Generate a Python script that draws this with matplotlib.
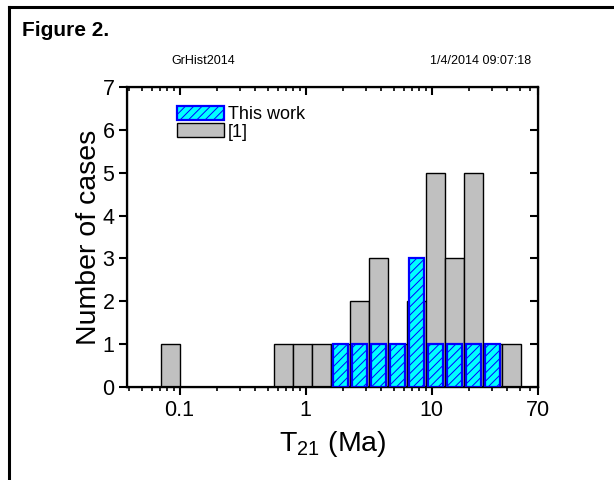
import matplotlib
matplotlib.use('Agg')
import matplotlib.pyplot as plt
import numpy as np
from matplotlib.lines import Line2D

plt.rcParams['font.family'] = 'Liberation Sans'
plt.rcParams['mathtext.fontset'] = 'custom'
plt.rcParams['mathtext.rm'] = 'Liberation Sans'
plt.rcParams['mathtext.it'] = 'Liberation Sans'
plt.rcParams['hatch.linewidth'] = 0.7

# log bins (factor sqrt(2)), edges in Ma
ref_lo = [0.0707, 0.566, 0.8, 1.131, 1.6, 2.263, 3.2, 4.525, 6.4, 9.05, 12.8, 18.1, 25.6, 36.2]
ref_hi = [0.1, 0.8, 1.131, 1.6, 2.263, 3.2, 4.525, 6.4, 9.05, 12.8, 18.1, 25.6, 36.2, 51.2]
ref_counts = [1, 1, 1, 1, 1, 2, 3, 1, 2, 5, 3, 5, 1, 1]

work_lo = [1.6, 2.263, 3.2, 4.525, 6.4, 9.05, 12.8, 18.1, 25.6]
work_hi = [2.263, 3.2, 4.525, 6.4, 9.05, 12.8, 18.1, 25.6, 36.2]
work_counts = [1, 1, 1, 1, 3, 1, 1, 1, 1]

xticks = [0.1, 1, 10, 70]
xticklabels = ['0.1', '1', '10', '70']
xmin, xmax = 0.0383, 70

fig = plt.figure(figsize=(6.14, 4.8), dpi=100)
ax = fig.add_axes([127/614, 1-387/480, 411/614, 300/480])

ref_lo = np.array(ref_lo); ref_hi = np.array(ref_hi)
ax.bar(ref_lo, ref_counts, width=ref_hi-ref_lo, align='edge',
       color='#C0C0C0', edgecolor='black', linewidth=1.0, zorder=2, label='[1]')

# narrower bars for this work, shrunk in log space around bin centre
work_lo = np.array(work_lo); work_hi = np.array(work_hi)
shrink = 0.385
c = np.sqrt(work_lo*work_hi)
r = (work_hi/work_lo)**shrink
ax.bar(c/r, work_counts, width=c*r-c/r, align='edge',
       color='#00FFFF', edgecolor='#0000FF', hatch='////', linewidth=1.6,
       zorder=3, label='This work')

ax.set_xscale('log')
ax.set_xlim(xmin, xmax)
ax.set_ylim(0, 7)
ax.set_xticks(xticks)
ax.set_xticklabels(xticklabels)
ax.set_yticks(range(8))
ax.tick_params(axis='both', which='major', direction='out', length=6, width=1.5,
               labelsize=15.5, pad=3)
ax.tick_params(axis='x', which='minor', direction='out', length=3, width=1.2)
ax.tick_params(axis='y', which='minor', left=False)
for s in ax.spines.values():
    s.set_linewidth(1.6)

# mirrored inward ticks on top and right
axt = ax.twiny()
axt.set_xscale('log')
axt.set_xlim(xmin, xmax)
axt.set_xticks(xticks)
axt.tick_params(axis='x', which='major', direction='in', length=6, width=1.5, labeltop=False)
axt.tick_params(axis='x', which='minor', direction='in', length=3, width=1.2)
axr = ax.twinx()
axr.set_ylim(0, 7)
axr.set_yticks(range(8))
axr.tick_params(axis='y', direction='in', length=6, width=1.5, labelright=False)
axr.tick_params(axis='y', which='minor', right=False)

ax.set_ylabel('Number of cases', fontsize=20.5, labelpad=0)
ax.set_xlabel('T$_{21}$ (Ma)', fontsize=20.5, labelpad=6)

h, l = ax.get_legend_handles_labels()
ax.legend(h[::-1], l[::-1], loc='upper left', frameon=False, fontsize=13,
          handlelength=2.6, handleheight=0.8, handletextpad=0.2,
          labelspacing=0.0, borderaxespad=0.0, bbox_to_anchor=(0.105, 0.96))

fig.text(22/614, 1-30/480, 'Figure 2.', fontsize=15, fontweight='bold', va='center')
fig.text(171/614, 1-61/480, 'GrHist2014', fontsize=9, va='center')
fig.text(531/614, 1-61/480, '1/4/2014 09:07:18', fontsize=9, va='center', ha='right')

fig.add_artist(Line2D([9/614, 1], [1-7/480, 1-7/480], color='black', linewidth=2.2))
fig.add_artist(Line2D([9/614, 9/614], [0, 1-7/480], color='black', linewidth=2.2))

fig.savefig('out.png', dpi=100)
